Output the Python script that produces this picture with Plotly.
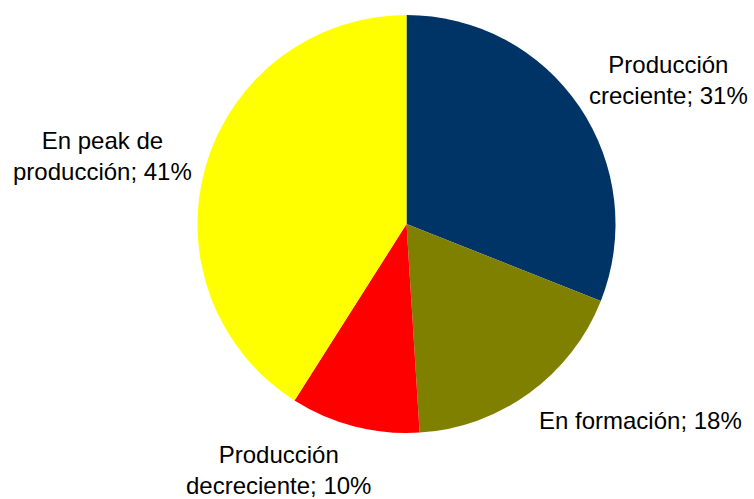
import plotly.graph_objects as go

labels = ["Producción creciente", "En formación", "Producción decreciente", "En peak de producción"]
values = [31, 18, 10, 41]
colors = ["#003366", "#808000", "#FF0000", "#FFFF00"]
# display text split into lines
label_lines = [["Producción", "creciente; {p}"], ["En formación; {p}"],
               ["Producción", "decreciente; {p}"], ["En peak de", "producción; {p}"]]
# label centers in pixels (x, y from top)
label_pos = [(668, 80), (640, 420), (278, 470), (102, 156)]

W, H = 754, 499
total = sum(values)

fig = go.Figure(go.Pie(
    labels=labels, values=values, sort=False, direction="clockwise", rotation=0,
    marker=dict(colors=colors, line=dict(color="white", width=0)),
    textinfo="none", hoverinfo="label+percent", showlegend=False,
    domain=dict(x=[197 / W, 616 / W], y=[1 - 433 / H, 1 - 15 / H]),
))

for lines, (px, py), v in zip(label_lines, label_pos, values):
    pct = f"{round(v / total * 100)}%"
    text = "<br>".join(l.format(p=pct) for l in lines)
    fig.add_annotation(x=px / W, y=1 - py / H, xref="paper", yref="paper",
                       text=text, showarrow=False, xanchor="center", yanchor="middle",
                       font=dict(family="Liberation Sans, Arial", size=24, color="black"))

fig.update_layout(width=W, height=H, margin=dict(l=0, r=0, t=0, b=0),
                  paper_bgcolor="white", plot_bgcolor="white")
fig.write_html("out.html", config={"displayModeBar": False},
               post_script="document.body.style.margin='0';document.body.style.overflow='hidden';")
